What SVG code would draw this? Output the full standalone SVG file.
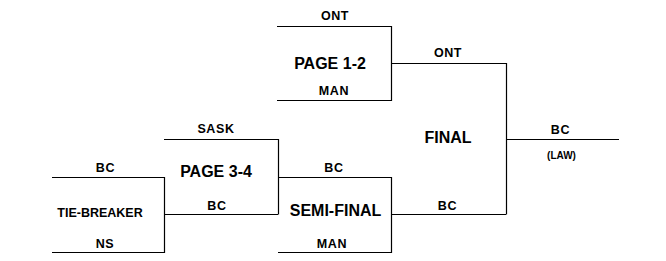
<svg xmlns="http://www.w3.org/2000/svg" width="666" height="261" viewBox="0 0 666 261">
  <style>
    .ln { fill: none; stroke: #000; stroke-width: 1.2; }
    text { font-family: "Liberation Sans", Arial, sans-serif; font-weight: bold; fill: #000; text-anchor: middle; }
    .team { font-size: 12.5px; letter-spacing: 0.6px; }
    .game { font-size: 16px; }
    .tb { font-size: 12.5px; }
    .note { font-size: 10px; }
  </style>
  <rect width="666" height="261" fill="#fff"/>

  <!-- Page 1-2 game -->
  <g id="page12">
    <path class="ln" d="M277,26.5 H391.5 V100.5 H277"/>
    <text class="team" x="335" y="20">ONT</text>
    <text class="game" x="330" y="69">PAGE 1-2</text>
    <text class="team" x="334" y="95">MAN</text>
  </g>

  <!-- Tie-breaker game -->
  <g id="tiebreaker">
    <path class="ln" d="M52,177.5 H164.5 V252.5 H52"/>
    <text class="team" x="105.5" y="172">BC</text>
    <text class="tb" x="100" y="217">TIE-BREAKER</text>
    <text class="team" x="105" y="248">NS</text>
  </g>

  <!-- Page 3-4 game -->
  <g id="page34">
    <path class="ln" d="M164,139.5 H278.5 V214.5"/>
    <text class="team" x="216" y="133">SASK</text>
    <text class="game" x="216" y="177">PAGE 3-4</text>
    <text class="team" x="217" y="210">BC</text>
  </g>

  <!-- Semi-final game -->
  <g id="semifinal">
    <path class="ln" d="M278,177.5 H391.5 V252.5 H278"/>
    <text class="team" x="334" y="172">BC</text>
    <text class="game" x="335.5" y="216">SEMI-FINAL</text>
    <text class="team" x="332" y="248">MAN</text>
  </g>

  <!-- Final game -->
  <g id="final">
    <path class="ln" d="M506.5,63 V214.5"/>
    <text class="team" x="448" y="57">ONT</text>
    <text class="game" x="448" y="143">FINAL</text>
    <text class="team" x="447.5" y="210">BC</text>
    <text class="team" x="560.5" y="134">BC</text>
    <text class="note" x="561.5" y="159">(LAW)</text>
  </g>

  <!-- Advancement lines between games -->
  <g id="connectors">
    <path class="ln" d="M164,214.5 H278"/>
    <path class="ln" d="M391,63.5 H506"/>
    <path class="ln" d="M391,214.5 H506"/>
    <path class="ln" d="M506,139.5 H619"/>
  </g>
</svg>
